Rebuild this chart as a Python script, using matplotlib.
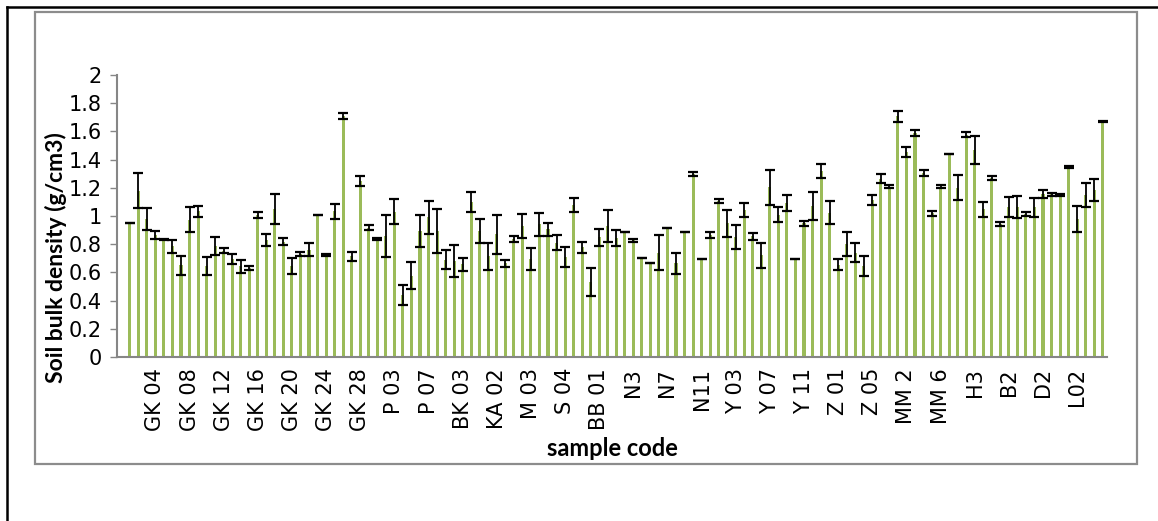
import matplotlib.pyplot as plt
import numpy as np
from matplotlib.lines import Line2D
from matplotlib.patches import Rectangle

plt.rcParams['font.family'] = ['DejaVu Sans']

# mean bulk density per sample (categories 1..115, category 0 is empty)
density = [0.95, 1.18, 0.98, 0.865, 0.832, 0.785, 0.649, 0.974, 1.032, 0.648,
           0.785, 0.755, 0.696, 0.643, 0.631, 1.006, 0.832, 1.052, 0.818, 0.644,
           0.728, 0.761, 1.009, 0.723, 1.032, 1.710, 0.714, 1.251, 0.918, 0.834,
           0.856, 1.030, 0.440, 0.577, 0.892, 0.992, 0.894, 0.691, 0.681, 0.657,
           1.099, 0.894, 0.714, 0.869, 0.664, 0.836, 0.929, 0.696, 0.941, 0.905,
           0.812, 0.709, 1.076, 0.778, 0.532, 0.848, 0.929, 0.846, 0.884, 0.829,
           0.700, 0.664, 0.741, 0.917, 0.664, 0.889, 1.300, 0.693, 0.866, 1.106,
           0.947, 0.851, 1.044, 0.856, 0.720, 1.204, 1.008, 1.095, 0.693, 0.948,
           1.071, 1.321, 1.022, 0.655, 0.803, 0.741, 0.648, 1.113, 1.265, 1.209,
           1.707, 1.456, 1.589, 1.307, 1.019, 1.209, 1.437, 1.201, 1.578, 1.466,
           1.047, 1.267, 0.943, 1.064, 1.064, 1.017, 1.063, 1.158, 1.154, 1.148,
           1.348, 0.980, 1.149, 1.184, 1.669]
# error (+/-)
err = [0.0, 0.124, 0.077, 0.026, 0.004, 0.047, 0.065, 0.089, 0.041, 0.063,
       0.064, 0.018, 0.034, 0.047, 0.017, 0.022, 0.043, 0.106, 0.026, 0.056,
       0.014, 0.047, 0.0, 0.009, 0.053, 0.020, 0.031, 0.035, 0.020, 0.007,
       0.149, 0.090, 0.071, 0.095, 0.112, 0.117, 0.156, 0.065, 0.113, 0.045,
       0.073, 0.083, 0.095, 0.141, 0.027, 0.020, 0.085, 0.077, 0.080, 0.045,
       0.051, 0.071, 0.050, 0.040, 0.102, 0.063, 0.111, 0.057, 0.0, 0.011,
       0.0, 0.0, 0.122, 0.0, 0.073, 0.0, 0.014, 0.0, 0.020, 0.012,
       0.093, 0.083, 0.048, 0.024, 0.086, 0.124, 0.053, 0.057, 0.0, 0.017,
       0.097, 0.048, 0.082, 0.040, 0.084, 0.067, 0.071, 0.035, 0.033, 0.013,
       0.038, 0.035, 0.019, 0.021, 0.017, 0.008, 0.0, 0.087, 0.018, 0.099,
       0.052, 0.014, 0.017, 0.069, 0.076, 0.014, 0.067, 0.027, 0.012, 0.006,
       0.008, 0.093, 0.082, 0.076, 0.003]

tick_labels = ['GK 04', 'GK 08', 'GK 12', 'GK 16', 'GK 20', 'GK 24', 'GK 28',
               'P 03', 'P 07', 'BK 03', 'KA 02', 'M 03', 'S 04', 'BB 01',
               'N3', 'N7', 'N11', 'Y 03', 'Y 07', 'Y 11', 'Z 01', 'Z 05',
               'MM 2', 'MM 6', 'H3', 'B2', 'D2', 'L02']

W, H = 1158, 521
fig = plt.figure(figsize=(W / 100, H / 100), dpi=100)
ax = fig.add_axes([117 / W, 1 - 357 / H, 990 / W, 282 / H])

x = np.arange(1, len(density) + 1)
ax.bar(x, density, width=0.36, color='#9BBB59', zorder=2)
ax.errorbar(x, density, yerr=err, fmt='none', ecolor='black',
            elinewidth=1.3, capsize=3.6, capthick=1.6, zorder=3)

ax.set_xlim(-0.5, len(density) + 0.5)
ax.set_ylim(0, 2)
ax.set_yticks(np.arange(0, 2.01, 0.2))
ax.set_yticklabels(['0', '0.2', '0.4', '0.6', '0.8', '1', '1.2', '1.4',
                    '1.6', '1.8', '2'])
ax.set_xticks(np.arange(4, 4 * len(tick_labels) + 1, 4))
ax.set_xticklabels(tick_labels, rotation=90)

ax.tick_params(axis='y', length=5, width=1, color='#868686',
               labelsize=15, pad=6)
ax.tick_params(axis='x', length=0, labelsize=15, pad=8)
for s in ['top', 'right']:
    ax.spines[s].set_visible(False)
for s in ['left', 'bottom']:
    ax.spines[s].set_color('#868686')
    ax.spines[s].set_linewidth(1.5)

fig.text(56 / W, 1 - 258 / H, 'Soil bulk density (g/cm3)', rotation=90,
         ha='center', va='center', fontsize=16.5, fontweight='bold',
         family='Lato')
fig.text(612 / W, 1 - 449 / H, 'sample code', ha='center', va='center',
         fontsize=17, fontweight='bold', family='Lato')

# chart area border and page lines
fig.add_artist(Rectangle((35 / W, 1 - 464 / H), 1102 / W, 452 / H,
                         transform=fig.transFigure, fill=False,
                         edgecolor='#8c8c8c', linewidth=1.6))
fig.add_artist(Line2D([7 / W, 1], [1 - 7 / H, 1 - 7 / H],
                      transform=fig.transFigure, color='black', linewidth=1.8))
fig.add_artist(Line2D([7 / W, 7 / W], [0, 1 - 7 / H],
                      transform=fig.transFigure, color='black', linewidth=1.8))

fig.savefig('out.png', dpi=100)
